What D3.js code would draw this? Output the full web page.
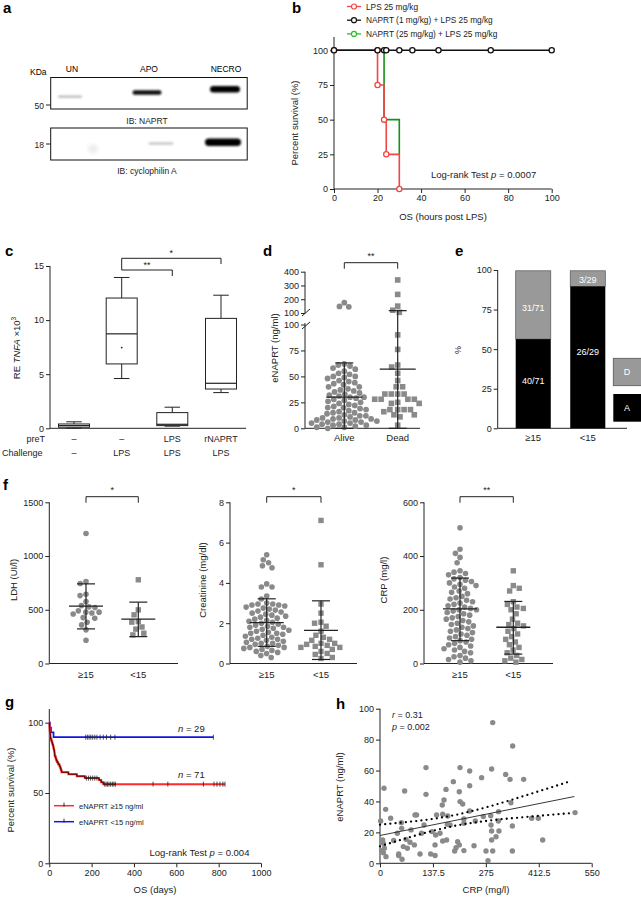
<!DOCTYPE html>
<html><head><meta charset="utf-8">
<script src="https://cdn.jsdelivr.net/npm/d3@7"></script>
<style>
body{margin:0;background:#fff}
svg{display:block;font-family:"Liberation Sans",Arial,Helvetica,sans-serif}
.tick text{font-size:9px;fill:#222;font-family:"Liberation Sans",Arial,sans-serif}
.tick line{stroke:#222}
</style></head><body>
<svg id="c" width="641" height="898"></svg>
<script>
// ================= DATA =================
// a: western blot
const blotLanes = ["UN","APO","NECRO"];
const naprtIntensity = [0.28, 0.95, 1.0];
const cypIntensity = [0.08, 0.22, 1.0];

// b: survival (hours post LPS)
const bTicksX = [0,20,40,60,80,100];
const bTicksY = [0,25,50,75,100];
const bLegend = ["LPS 25 mg/kg","NAPRT (1 mg/kg) + LPS 25 mg/kg","NAPRT (25 mg/kg) + LPS 25 mg/kg"];
const lpsTimes = [0,20,23,24,30], lpsSurv = [100,75,50,25,0];
const lpsMarkT = [0,20,20,23,24,30], lpsMarkS = [100,100,75,50,25,0];
const n25Times = [0,23,30], n25Surv = [100,50,25];
const n1Times = [0,100], n1Surv = [100,100];
const n1MarkT = [0,20,23,24,30,36,48,72,100];

// c: box plots RE TNFA x10^3
const cPreT = ["–","–","LPS","rNAPRT"];
const cChallenge = ["–","LPS","LPS","LPS"];
const cMin = [0.02,4.6,0.2,3.3];
const cQ1  = [0.1,5.95,0.25,3.63];
const cMed = [0.25,8.73,0.37,4.16];
const cQ3  = [0.4,12.04,1.45,10.16];
const cMax = [0.6,13.94,1.95,12.3];
const cMeanG2 = 7.46;
const cTicks = [0,5,10,15];

// d: eNAPRT alive vs dead
const dCats = ["Alive","Dead"];
const dAlive = [62,61,60,58,57,55,53,52,50,50,49,48,46,45,44,43,42,40,40,38,37,36,35,34,33,32,31,30,30,29,28,27,26,25,24,23,22,21,20,20,19,18,17,16,15,15,14,13,12,12,11,10,10,9,9,8,8,7,7,6,6,5,5,4,4,3,3,2,1,1,0,145,148,175];
const dDead = [90,76,61,59,53,46,40,40,33,33,33,33,28,28,28,28,25,24,24,18,18,18,18,16,13,11,13,3,340,235,150,120,105];
const dMean = [30,57], dUpper = [63,117], dLower = [0,0];
const dTicksLow = [0,25,50,75,100], dTicksHigh = [100,200,300,400];

// e: stacked %
const eCats = ["≥15","<15"];
const eAlive = [40,26], eDead = [31,3], eTotal = [71,29];
const eTicks = [0,25,50,75,100];

// f: LDH, creatinine, CRP
const fCats = ["≥15","<15"];
const ldhHigh = [1210,763,745,645,632,577,539,527,520,490,478,478,470,460,427,420,384,359,313,216];
const ldhLow = [779,499,453,390,385,340,320,282,266];
const ldhMean = [533,412], ldhUpper = [741,571], ldhLower = [322,250];
const crHigh = [5.4,5.15,5.0,4.85,4.75,3.95,3.8,3.8,3.35,3.2,3.0,2.95,2.95,2.9,2.9,2.85,2.8,2.75,2.7,2.65,2.6,2.55,2.5,2.45,2.4,2.35,2.3,2.25,2.2,2.15,2.1,2.05,2.0,1.95,1.9,1.85,1.8,1.8,1.75,1.7,1.65,1.6,1.55,1.5,1.5,1.45,1.4,1.35,1.3,1.25,1.2,1.2,1.15,1.1,1.05,1.0,1.0,0.95,0.9,0.85,0.8,0.8,0.75,0.7,0.65,0.6,0.55,0.5,0.4,0.3];
const crLow = [7.1,4.9,2.95,2.5,2.05,2.0,1.85,1.6,1.4,1.3,1.2,1.15,1.0,1.0,0.95,0.9,0.85,0.8,0.8,0.7,0.6,0.5,0.45,0.3,0.25];
const crMean = [2.03,1.64], crUpper = [3.21,3.11], crLower = [0.85,0.2];
const crpHigh = [505,425,410,395,375,345,340,335,330,320,315,310,305,300,295,290,285,280,270,265,260,250,245,240,235,230,225,220,215,210,205,200,200,195,190,185,180,175,170,165,160,155,150,145,140,135,130,125,120,115,110,105,100,95,90,85,80,75,70,65,60,55,50,45,40,30,25,20,15,10,5];
const crpLow = [345,290,280,270,230,220,210,205,200,185,165,150,145,140,130,120,110,100,90,80,70,60,50,40,30,20,15,10,5];
const crpMean = [203,135], crpUpper = [318,231], crpLower = [85,35];

// g: KM (days)
const gHighT = [0,0.5,1,1.5,2,3,4,5,6,9,12,15,18,20,22,24,25,26,30,33,37,42,48,52,55,58,90,130,168,235,245,255,830];
const gHighS = [100,98.6,97.2,95.8,94.4,93.0,91.5,90.1,88.7,87.3,85.9,84.5,83.1,81.7,80.3,78.9,77.5,76.1,74.6,73.2,71.8,70.4,69.0,67.6,66.2,64.8,63.4,62.0,60.6,59.2,57.7,56.3,56.3];
const gHighCens = [175,185,195,205,215,225,262,268,275,282,290,298,305,312,490,560,728,778,792,806,820,830];
const gLowT = [0,3,8,20,775], gLowS = [100,96.6,93.1,89.7,89.7];
const gLowCens = [172,180,188,196,205,215,225,240,255,270,290,310,775];
const gTicksX = [0,200,400,600,800,1000], gTicksY = [0,50,100];
const gLegend = ["eNAPRT ≥15 ng/ml","eNAPRT <15 ng/ml"];

// h: scatter CRP vs eNAPRT
const hCRP = [292.8,344.7,119.5,207.9,290,233,326.5,264,337.8,373.3,190.5,233,10.4,171.5,64,119.5,166.3,206,208,214.8,340,161.8,14.7,233,308,27.7,394,411.3,506.7,91,95,147,163,176,287.6,268.5,218,218,247.7,307.5,1.7,55.4,114.3,288.4,343.9,56.3,80.6,135.1,155.9,175,108,290,309,45,144.6,301.4,6.9,67.6,173,162.8,35.5,77.9,422.7,290,201.8,89.2,8.7,143,206,244.3,11.3,71,197.5,194,218,275.4,292.8,343.9,4.3,15.6,48.5,48.5,104,131.7,143,57.2,280.6,8.7,60.6,182];
const hENAPRT = [91,75.9,61.9,61.9,61,59.7,57.5,55.4,54.3,54.3,52.8,50.2,48.5,47.8,46.8,44.6,40.9,46.3,39.9,38.4,39.2,37.7,34.9,33.8,33.4,29.1,29.1,29.1,32.8,31.3,31.3,31.3,31.7,30.6,30.8,30.2,28.7,25.9,27.4,27.4,27.4,26.3,24.8,24.8,24.1,22.6,21.6,20.5,19.4,25.2,19.4,20.9,20.9,19.4,18.3,17.2,15.1,15.5,15.1,14.4,14.7,13.6,15.1,15.1,14,11.9,12.9,11.9,11.9,11.4,9.7,9.7,10.1,8,8.2,8,8,8,8.2,4.3,6,5,6,6,5,2.6,1.7,6.9,10.8,24.8];
const hFitX = [0,505], hFitY = [18,43.2];
const hBandX = [0,50,100,150,200,250,300,350,400,450,495];
const hBandUp = [25,26.2,27.5,29.2,31.5,34.5,37.9,41.7,45.6,49.5,53.1];
const hBandLo = [11,14.8,18.5,21.8,24.5,26.5,28.1,29.3,30.4,31.5,32.4];
const hTicksX = [0,137.5,275,412.5,550], hTicksY = [0,20,40,60,80,100];

// ================= DRAW =================
const svg = d3.select("#c");
svg.append("rect").attr("width",641).attr("height",898).attr("fill","#fff");
const INK = "#222", PT = "#8a8a8a";

function label(x,y,str,o={}){
  const t = svg.append("text").attr("x",x).attr("y",y).text(str)
    .attr("font-size",o.size||9).attr("fill",o.fill||INK)
    .attr("text-anchor",o.anchor||"start");
  if(o.bold) t.attr("font-weight","bold");
  if(o.rot) t.attr("transform",`rotate(${o.rot},${x},${y})`);
  return t;
}
function panel(x,y,l){ label(x,y,l,{size:15,bold:true,fill:"#000"}); }
function leftAxis(x, scale, ticks, y0, y1, fmt){
  const g = svg.append("g").attr("transform",`translate(${x},0)`);
  g.call(d3.axisLeft(scale).tickValues(ticks).tickSize(4).tickPadding(2).tickFormat(fmt||(d=>d)));
  g.select(".domain").remove();
  g.append("line").attr("y1",y0).attr("y2",y1).attr("stroke",INK).attr("stroke-width",1);
  return g;
}
function bottomAxis(y, scale, ticks, x0, x1, fmt){
  const g = svg.append("g").attr("transform",`translate(0,${y})`);
  g.call(d3.axisBottom(scale).tickValues(ticks).tickSize(4).tickPadding(2).tickFormat(fmt||(d=>d)));
  g.select(".domain").remove();
  g.append("line").attr("x1",x0).attr("x2",x1).attr("stroke",INK).attr("stroke-width",1);
  return g;
}
function hline(x0,x1,y,w){ svg.append("line").attr("x1",x0).attr("x2",x1).attr("y1",y).attr("y2",y).attr("stroke",INK).attr("stroke-width",w||1); }
function vline(x,y0,y1,w){ svg.append("line").attr("x1",x).attr("x2",x).attr("y1",y0).attr("y2",y1).attr("stroke",INK).attr("stroke-width",w||1); }
function bracket(x1,x2,y,txt,tick){
  svg.append("path").attr("d",`M${x1},${y+(tick||5)}V${y}H${x2}V${y+(tick||5)}`).attr("fill","none").attr("stroke",INK).attr("stroke-width",1);
  label((x1+x2)/2,y-4,txt,{anchor:"middle",size:9});
}
function swarm(vals, yf, cx, r, gap){
  const d = 2*r+gap;
  const pts = vals.map(v=>({v,y:yf(v)})).sort((a,b)=>a.y-b.y);
  const placed=[];
  for(const p of pts){
    const near = placed.filter(q=>Math.abs(q.y-p.y)<d);
    const cands=[cx];
    near.forEach(q=>{const dx=Math.sqrt(d*d-(q.y-p.y)**2); cands.push(q.x-dx-0.01,q.x+dx+0.01);});
    cands.sort((a,b)=>Math.abs(a-cx)-Math.abs(b-cx));
    for(const c of cands){ if(near.every(q=>(q.x-c)**2+(q.y-p.y)**2>=d*d-0.05)){p.x=c;break;} }
    placed.push(p);
  }
  return placed;
}
function drawCircles(pts,r){ svg.append("g").selectAll("circle").data(pts).join("circle").attr("cx",d=>d.x).attr("cy",d=>d.y).attr("r",r).attr("fill",PT); }
function drawSquares(pts,s){ svg.append("g").selectAll("rect").data(pts).join("rect").attr("x",d=>d.x-s/2).attr("y",d=>d.y-s/2).attr("width",s).attr("height",s).attr("fill",PT); }
function meanSD(cx,ym,yu,yl,mw,cw){
  vline(cx,yu,yl,1.2); hline(cx-mw/2,cx+mw/2,ym,1.3); hline(cx-cw/2,cx+cw/2,yu,1.2); hline(cx-cw/2,cx+cw/2,yl,1.2);
}
function stepPath(xs, ys, T, S){
  let p = `M${xs(T[0])},${ys(S[0])}`;
  for(let i=1;i<T.length;i++){ p += `H${xs(T[i])}V${ys(S[i])}`; }
  return p;
}
function survAt(T,S,t){ let s=S[0]; for(let i=0;i<T.length;i++){ if(T[i]<=t) s=S[i]; } return s; }

const defs = svg.append("defs");
defs.append("filter").attr("id","blur").attr("x","-50%").attr("y","-100%").attr("width","200%").attr("height","300%")
  .append("feGaussianBlur").attr("stdDeviation",1.0);
defs.append("filter").attr("id","blur2").attr("x","-50%").attr("y","-100%").attr("width","200%").attr("height","300%")
  .append("feGaussianBlur").attr("stdDeviation",2);

// ---------- a ----------
panel(3,13,"a");
const laneX = d3.scalePoint().domain(blotLanes).range([72,226]);
label(30,75,"KDa",{size:8.5,fill:"#000"});
blotLanes.forEach(l=>label(laneX(l),72,l,{anchor:"middle",size:8.5,fill:"#000"}));
svg.append("rect").attr("x",50.7).attr("y",77.5).attr("width",196.5).attr("height",31.5).attr("fill","#fff").attr("stroke","#111").attr("stroke-width",1);
svg.append("rect").attr("x",50.7).attr("y",128).attr("width",196.5).attr("height",32).attr("fill","#fff").attr("stroke","#111").attr("stroke-width",1);
const bandGeomN = [{w:24,h:2.2,y:96.7,dx:-2},{w:29,h:4.5,y:92.5,dx:-2},{w:30,h:6.5,y:89.3,dx:-1}];
const bandGeomC = [{w:10,h:8,y:149,dx:21},{w:25,h:2.5,y:143.5,dx:12},{w:36,h:7.5,y:142.3,dx:-3}];
blotLanes.forEach((l,i)=>{
  const gN = bandGeomN[i], gC = bandGeomC[i];
  svg.append("rect").attr("x",laneX(l)-gN.w/2+gN.dx).attr("y",gN.y-gN.h/2).attr("width",gN.w).attr("height",gN.h).attr("rx",gN.h/2)
    .attr("fill","#000").attr("opacity",naprtIntensity[i]).attr("filter","url(#blur)");
  svg.append("rect").attr("x",laneX(l)-gC.w/2+gC.dx).attr("y",gC.y-gC.h/2).attr("width",gC.w).attr("height",gC.h).attr("rx",gC.h/2)
    .attr("fill","#000").attr("opacity",cypIntensity[i]).attr("filter",i===0?"url(#blur2)":"url(#blur)");
});
hline(46,50.7,105); label(44,108.5,"50",{anchor:"end",size:8.5});
hline(46,50.7,144); label(44,147.5,"18",{anchor:"end",size:8.5});
label(147,124,"IB: NAPRT",{anchor:"middle",size:8.5});
label(147,174,"IB: cyclophilin A",{anchor:"middle",size:8.5});

// ---------- b ----------
panel(292,13,"b");
const bx = d3.scaleLinear().domain([0,100]).range([334,551.7]);
const by = d3.scaleLinear().domain([0,100]).range([189,50.3]);
leftAxis(334,by,bTicksY,37,189);
bottomAxis(189,bx,bTicksX,334,551.7);
label(298,123,"Percent survival (%)",{anchor:"middle",size:9.5,rot:-90});
label(443,220,"OS (hours post LPS)",{anchor:"middle",size:9.5});
const cRed="#ef4646", cGreen="#17901a", cBlk="#111";
svg.append("path").attr("d",stepPath(bx,by,n25Times,n25Surv)).attr("fill","none").attr("stroke",cGreen).attr("stroke-width",1.6);
svg.append("path").attr("d",stepPath(bx,by,lpsTimes,lpsSurv)).attr("fill","none").attr("stroke",cRed).attr("stroke-width",1.6);
svg.append("g").selectAll("circle").data(lpsMarkT.map((t,i)=>[t,lpsMarkS[i]])).join("circle")
  .attr("cx",d=>bx(d[0])).attr("cy",d=>by(d[1])).attr("r",2.6).attr("fill","#fff").attr("stroke",cRed).attr("stroke-width",1.3);
svg.append("path").attr("d",stepPath(bx,by,n1Times,n1Surv)).attr("fill","none").attr("stroke",cBlk).attr("stroke-width",1.6);
svg.append("g").selectAll("circle").data(n1MarkT).join("circle")
  .attr("cx",d=>bx(d)).attr("cy",by(100)).attr("r",2.6).attr("fill","#fff").attr("stroke",cBlk).attr("stroke-width",1.3);
const legCols=[cRed,cBlk,"#2eb82e"];
bLegend.forEach((s,i)=>{
  const y = 6.5+i*13.7;
  svg.append("line").attr("x1",347).attr("x2",361).attr("y1",y).attr("y2",y).attr("stroke",legCols[i]).attr("stroke-width",1.3);
  svg.append("circle").attr("cx",354).attr("cy",y).attr("r",2.5).attr("fill","#fff").attr("stroke",legCols[i]).attr("stroke-width",1.2);
  label(366,y+3,s,{size:8.3});
});
{ const t = label(431,178,"Log-rank Test ",{size:9.5}); t.append("tspan").attr("font-style","italic").text("p"); t.append("tspan").text(" = 0.0007"); }

// ---------- c ----------
panel(5,256,"c");
const cy = d3.scaleLinear().domain([0,15]).range([428.3,266]);
const cxv = [74,121.7,172.3,221];
leftAxis(50,cy,cTicks,266,428.3);
hline(50,246,428.3);
{ const t = label(20,348,"RE ",{anchor:"middle",size:9.5,rot:-90});
  t.append("tspan").attr("font-style","italic").text("TNFA");
  t.append("tspan").text(" ×10");
  t.append("tspan").attr("dy",-4).attr("font-size",6.5).text("3"); }
const bw = 31;
d3.range(4).forEach(i=>{
  const x = cxv[i];
  vline(x,cy(cMax[i]),cy(cQ3[i])); vline(x,cy(cQ1[i]),cy(cMin[i]));
  hline(x-bw/4,x+bw/4,cy(cMax[i])); hline(x-bw/4,x+bw/4,cy(cMin[i]));
  svg.append("rect").attr("x",x-bw/2).attr("y",cy(cQ3[i])).attr("width",bw).attr("height",cy(cQ1[i])-cy(cQ3[i]))
    .attr("fill","#fff").attr("stroke",INK).attr("stroke-width",1);
  hline(x-bw/2,x+bw/2,cy(cMed[i]),1.2);
});
svg.append("circle").attr("cx",cxv[1]).attr("cy",cy(cMeanG2)).attr("r",0.9).attr("fill",INK);
label(45,441.5,"preT",{anchor:"end",size:9});
label(2,455.5,"Challenge",{size:9});
cPreT.forEach((s,i)=>label(cxv[i],441.5,s,{anchor:"middle",size:9}));
cChallenge.forEach((s,i)=>label(cxv[i],455.5,s,{anchor:"middle",size:9}));
svg.append("path").attr("d",`M${cxv[1]},270V258.3H${cxv[3]}V264`).attr("fill","none").attr("stroke",INK);
svg.append("path").attr("d",`M${cxv[1]},270H${cxv[2]}V276`).attr("fill","none").attr("stroke",INK);
label((cxv[1]+cxv[3])/2,256,"*",{anchor:"middle",size:9});
label((cxv[1]+cxv[2])/2,268,"**",{anchor:"middle",size:9});

// ---------- d ----------
panel(263,256,"d");
const dLow = d3.scaleLinear().domain([0,100]).range([428.3,324.5]);
const dHigh = d3.scaleLinear().domain([100,400]).range([313,271.7]);
const dY = v => v<=100 ? dLow(v) : dHigh(v);
const dX = d3.scalePoint().domain(dCats).range([344.3,397.7]);
leftAxis(305,dLow,dTicksLow,323,428.3);
leftAxis(305,dHigh,dTicksHigh,271.7,313.5);
svg.append("line").attr("x1",302).attr("x2",310).attr("y1",316).attr("y2",309).attr("stroke",INK);
svg.append("line").attr("x1",302).attr("x2",310).attr("y1",329).attr("y2",322).attr("stroke",INK);
hline(305,420,428.3);
dCats.forEach(c=>label(dX(c),441,c,{anchor:"middle",size:9.5}));
label(278,348,"eNAPRT (ng/ml)",{anchor:"middle",size:9.5,rot:-90});
drawCircles(swarm(dAlive,dY,dX("Alive"),2.9,0.3),2.9);
drawSquares(swarm(dDead,dY,dX("Dead"),2.9,0.6),5.6);
dCats.forEach((c,i)=>meanSD(dX(c),dY(dMean[i]),dY(dUpper[i]),dY(dLower[i]),36,18));
bracket(dX("Alive"),dX("Dead"),262.7,"**",6);

// ---------- e ----------
panel(455,256,"e");
const eY = d3.scaleLinear().domain([0,100]).range([428.3,270]);
const eX = d3.scaleBand().domain(eCats).range([515.7,605.3]).paddingInner(0.357).paddingOuter(0);
leftAxis(497.7,eY,eTicks,270,428.3);
hline(497.7,627,428.3);
label(461,350,"%",{anchor:"middle",size:9,rot:-90});
eCats.forEach((c,i)=>{
  const pa = eAlive[i]/eTotal[i]*100;
  const x = eX(c), w = eX.bandwidth();
  svg.append("rect").attr("x",x).attr("y",eY(99.5)).attr("width",w).attr("height",eY(pa)-eY(99.5)).attr("fill","#999").attr("stroke","#555").attr("stroke-width",0.7);
  svg.append("rect").attr("x",x).attr("y",eY(pa)).attr("width",w).attr("height",eY(0)-eY(pa)).attr("fill","#000");
  label(x+w/2,441,c,{anchor:"middle",size:9.5});
  const dTxtY = i===0 ? 311 : 282.5;
  label(x+w/2,dTxtY,`${eDead[i]}/${eTotal[i]}`,{anchor:"middle",size:9,fill:"#fff"});
  const aTxtY = i===0 ? 384 : 355;
  label(x+w/2,aTxtY,`${eAlive[i]}/${eTotal[i]}`,{anchor:"middle",size:9,fill:"#fff"});
});
svg.append("rect").attr("x",613.3).attr("y",358.3).attr("width",30).attr("height",27.4).attr("fill","#999").attr("stroke","#555").attr("stroke-width",0.8);
svg.append("rect").attr("x",613.3).attr("y",394).attr("width",30).attr("height",27.7).attr("fill","#000");
label(627,375,"D",{anchor:"middle",size:9,fill:"#fff"});
label(627,411,"A",{anchor:"middle",size:9,fill:"#fff"});

// ---------- f ----------
panel(3,490,"f");
const fPanels = [
  {ax:49.3, x0:49.3, x1:178, cats:[86,138.3], y:d3.scaleLinear().domain([0,1500]).range([663.5,502.3]), ticks:[0,500,1000,1500],
   hi:ldhHigh, lo:ldhLow, mean:ldhMean, up:ldhUpper, dn:ldhLower, lab:"LDH (UI/l)", lx:17, sig:"*"},
  {ax:230, x0:230, x1:357, cats:[266.7,321], y:d3.scaleLinear().domain([0,8]).range([663.5,502.3]), ticks:[0,2,4,6,8],
   hi:crHigh, lo:crLow, mean:crMean, up:crUpper, dn:crLower, lab:"Creatinine (mg/dl)", lx:206, sig:"*"},
  {ax:424, x0:424, x1:553, cats:[460,513.3], y:d3.scaleLinear().domain([0,600]).range([663.5,502.3]), ticks:[0,200,400,600],
   hi:crpHigh, lo:crpLow, mean:crpMean, up:crpUpper, dn:crpLower, lab:"CRP (mg/l)", lx:387, sig:"**"}
];
fPanels.forEach(p=>{
  leftAxis(p.ax,p.y,p.ticks,502.3,663.5);
  hline(p.x0,p.x1,663.5);
  const xs = d3.scalePoint().domain(fCats).range(p.cats);
  fCats.forEach(c=>label(xs(c),677.5,c,{anchor:"middle",size:9.5}));
  label(p.lx,580,p.lab,{anchor:"middle",size:9.5,rot:-90});
  drawCircles(swarm(p.hi,p.y,xs("≥15"),2.8,0.5),2.8);
  drawSquares(swarm(p.lo,p.y,xs("<15"),2.8,0.9),5.4);
  fCats.forEach((c,i)=>meanSD(xs(c),p.y(p.mean[i]),p.y(p.up[i]),p.y(p.dn[i]),34,18));
  bracket(xs("≥15"),xs("<15"),496.7,p.sig,6);
});

// ---------- g ----------
panel(5,707,"g");
const gx = d3.scaleLinear().domain([0,1000]).range([49.3,261]);
const gy = d3.scaleLinear().domain([0,100]).range([863.3,722.7]);
leftAxis(49.3,gy,gTicksY,709,863.3);
bottomAxis(863.3,gx,gTicksX,49.3,261);
label(14,790,"Percent survival (%)",{anchor:"middle",size:9.5,rot:-90});
label(155,893,"OS (days)",{anchor:"middle",size:9.5});
const gRed="#ff2a2a", gBlue="#1414e6";
svg.append("path").attr("d",stepPath(gx,gy,gLowT,gLowS)).attr("fill","none").attr("stroke",gBlue).attr("stroke-width",1.7);
svg.append("path").attr("d",stepPath(gx,gy,gHighT,gHighS)).attr("fill","none").attr("stroke",gRed).attr("stroke-width",2);
{ const cut = gHighT.filter(t=>t<=315).length;
  const T = gHighT.slice(0,cut).concat([315]), S = gHighS.slice(0,cut).concat([gHighS[cut-1]]);
  svg.append("path").attr("d",stepPath(gx,gy,T,S)).attr("fill","none").attr("stroke","#300").attr("stroke-width",0.9); }
gHighCens.forEach(t=>vline(gx(t),gy(survAt(gHighT,gHighS,t))-2.5,gy(survAt(gHighT,gHighS,t))+2.5,0.8));
gLowCens.forEach(t=>vline(gx(t),gy(survAt(gLowT,gLowS,t))-2.5,gy(survAt(gLowT,gLowS,t))+2.5,0.8));
{ const t1 = label(178,732,"",{size:9.5}); t1.append("tspan").attr("font-style","italic").text("n"); t1.append("tspan").text(" = 29");
  const t2 = label(178,778,"",{size:9.5}); t2.append("tspan").attr("font-style","italic").text("n"); t2.append("tspan").text(" = 71"); }
[gRed,gBlue].forEach((col,i)=>{
  const y = 805.7+i*16;
  svg.append("line").attr("x1",54).attr("x2",74).attr("y1",y).attr("y2",y).attr("stroke",col).attr("stroke-width",1.5);
  vline(64,y-3,y+1,0.9);
  label(79,y+3,gLegend[i],{size:7.5});
});
{ const t = label(149.5,856,"Log-rank Test ",{size:9.5}); t.append("tspan").attr("font-style","italic").text("p"); t.append("tspan").text(" = 0.004"); }

// ---------- h ----------
panel(336,709,"h");
const hx = d3.scaleLinear().domain([0,550]).range([380,591.7]);
const hy = d3.scaleLinear().domain([0,100]).range([863.3,708.7]);
leftAxis(380,hy,hTicksY,708.7,863.3);
bottomAxis(863.3,hx,hTicksX,380,591.7);
label(343,787,"eNAPRT (ng/ml)",{anchor:"middle",size:9.5,rot:-90});
label(486,893,"CRP (mg/l)",{anchor:"middle",size:9.5});
svg.append("g").selectAll("circle").data(hCRP.map((v,i)=>[v,hENAPRT[i]])).join("circle")
  .attr("cx",d=>hx(d[0])).attr("cy",d=>hy(d[1])).attr("r",2.7).attr("fill",PT);
svg.append("line").attr("x1",hx(hFitX[0])).attr("x2",hx(hFitX[1])).attr("y1",hy(hFitY[0])).attr("y2",hy(hFitY[1])).attr("stroke",INK).attr("stroke-width",0.9);
const bandLine = d3.line().curve(d3.curveMonotoneX);
[hBandUp,hBandLo].forEach(arr=>{
  svg.append("path").attr("d",bandLine(hBandX.map((x,i)=>[hx(x),hy(arr[i])]))).attr("fill","none")
    .attr("stroke","#000").attr("stroke-width",2.3).attr("stroke-linecap","round").attr("stroke-dasharray","0,5.2");
});
{ const t1 = label(392,718,"",{size:9}); t1.append("tspan").attr("font-style","italic").text("r"); t1.append("tspan").text(" = 0.31");
  const t2 = label(392,730,"",{size:9}); t2.append("tspan").attr("font-style","italic").text("p"); t2.append("tspan").text(" = 0.002"); }
</script>
</body></html>
